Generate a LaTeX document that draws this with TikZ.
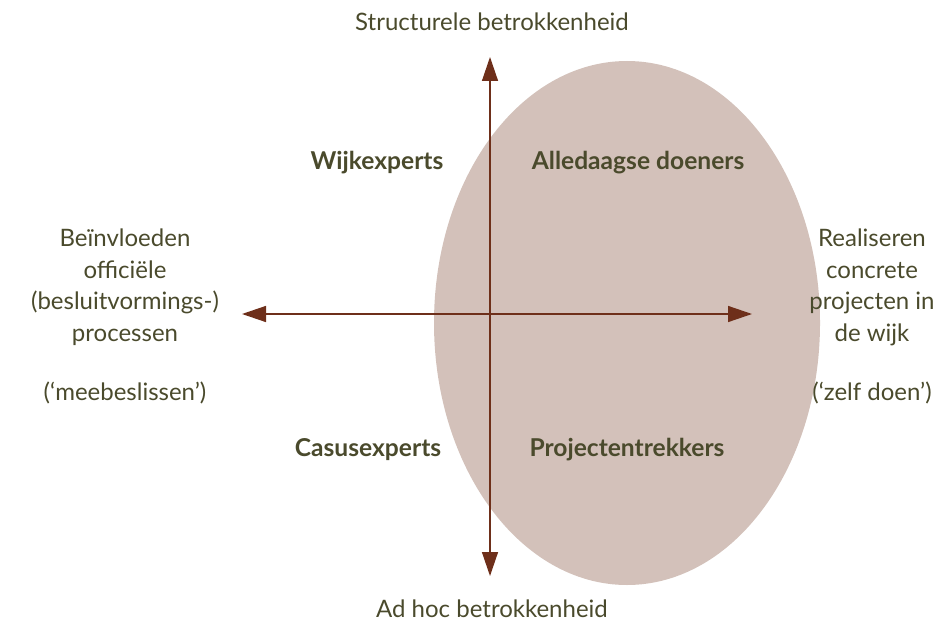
\documentclass[tikz,border=0pt]{standalone}
\usepackage{fontspec}
\setmainfont{Lato}
\usetikzlibrary{arrows.meta}
\definecolor{ellfill}{HTML}{D3C1BA}
\definecolor{arrcol}{HTML}{6E2F1A}
\definecolor{txtcol}{HTML}{4A4A2C}
\begin{document}
\begin{tikzpicture}[x=1pt,y=-1pt,
  lbl/.style={text=txtcol,font=\fontsize{24}{31.5}\selectfont,align=center,inner sep=0pt},
  quad/.style={text=txtcol,font=\fontsize{24.6}{26}\selectfont\bfseries,inner sep=0pt},
  axis/.style={draw=arrcol,line width=1.4pt,{Triangle[length=24pt,width=16pt]}-{Triangle[length=24pt,width=16pt]}}]
\useasboundingbox (0,0) rectangle (941,623);
\fill[ellfill] (627,323) ellipse [x radius=193, y radius=262];
\coordinate (top) at (490,57);
\coordinate (bot) at (490,576);
\coordinate (lft) at (242,314);
\coordinate (rgt) at (752,314);
\draw[axis] (bot) -- (top);
\draw[axis] (lft) -- (rgt);
\node[lbl] (ttop) at (492,22) {Structurele betrokkenheid};
\node[lbl] (tbot) at (492,609) {Ad hoc betrokkenheid};
\node[quad] (q1) at (377,163) {Wijkexperts};
\node[quad] (q2) at (638,163) {Alledaagse doeners};
\node[quad] (q3) at (368,450) {Casusexperts};
\node[quad] (q4) at (627,450) {Projectentrekkers};
\node[lbl,anchor=north] (tl) at (125,229) {Beïnvloeden\\officiële\\(besluitvormings-)\\processen\\[28pt]\strut(‘meebeslissen’)};
\node[lbl,anchor=north] (tr) at (872,229) {Realiseren\\concrete\\projecten in\\de wijk\\[28pt]\strut(‘zelf doen’)};
\end{tikzpicture}
\end{document}
